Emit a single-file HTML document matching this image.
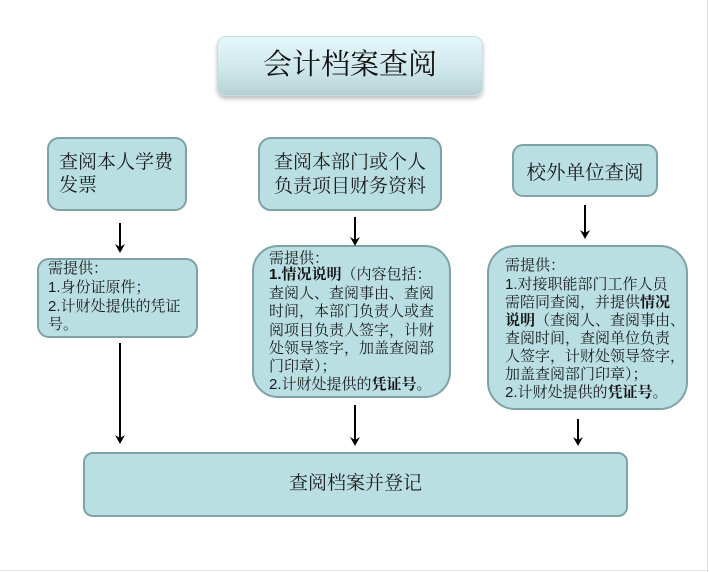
<!DOCTYPE html>
<html lang="zh-CN">
<head>
<meta charset="utf-8">
<style>
  html,body{margin:0;padding:0;background:#fff;}
  body{width:709px;height:572px;position:relative;overflow:hidden;
    font-family:"Liberation Sans","Noto Serif CJK SC","Noto Serif CJK JP","Noto Serif CJK TC",serif;color:#1e1e1e;}
  .box{position:absolute;box-sizing:border-box;background:#badfe3;border:2px solid #7fa2a5;}
  .t{position:absolute;white-space:nowrap;}
  .ln{position:absolute;white-space:nowrap;font-size:15px;height:18px;line-height:18px;color:#1c1c1c;}
  b{font-weight:bold;color:#111;}
</style>
</head>
<body>
<!-- frame lines -->
<div style="position:absolute;left:707px;top:0;width:1px;height:572px;background:#e2e2e2;"></div>
<div style="position:absolute;left:0;top:570px;width:709px;height:1px;background:#e6e6e6;"></div>

<!-- title -->
<div style="position:absolute;left:217px;top:36px;width:266px;height:60px;border-radius:9px;
  background:linear-gradient(#e4f7fa,#cfe8ec 55%,#b6d0d4);box-shadow:0 3px 4px rgba(0,0,0,0.25);border:1px solid #c9dde0;box-sizing:border-box;"></div>
<div class="t" style="left:217px;top:46px;width:266px;text-align:center;font-size:29px;line-height:38px;color:#111;">会计档案查阅</div>

<!-- top boxes -->
<div class="box" style="left:47px;top:137px;width:140px;height:74px;border-radius:12px;"></div>
<div class="t" style="left:59px;top:151px;font-size:19px;line-height:23px;color:#1c1c1c;">查阅本人学费<br>发票</div>

<div class="box" style="left:258px;top:137px;width:184px;height:74px;border-radius:13px;"></div>
<div class="t" style="left:258px;top:151px;width:184px;text-align:center;font-size:19px;line-height:24px;color:#1c1c1c;">查阅本部门或个人<br>负责项目财务资料</div>

<div class="box" style="left:512px;top:144px;width:146px;height:53px;border-radius:11px;"></div>
<div class="t" style="left:512px;top:160px;width:146px;text-align:center;font-size:19.5px;line-height:26px;color:#1c1c1c;">校外单位查阅</div>

<!-- middle boxes -->
<div class="box" style="left:37px;top:258px;width:161px;height:80px;border-radius:12px;"></div>
<div class="ln" style="left:48px;top:260px;">需提供：</div>
<div class="ln" style="left:48px;top:279px;">1.身份证原件；</div>
<div class="ln" style="left:48px;top:298px;">2.计财处提供的凭证</div>
<div class="ln" style="left:48px;top:316px;">号。</div>

<div class="box" style="left:252px;top:245px;width:199px;height:153px;border-radius:26px;"></div>
<div class="ln" style="left:269px;top:250px;">需提供：</div>
<div class="ln" style="left:269px;top:266px;"><b>1.情况说明</b>（内容包括：</div>
<div class="ln" style="left:269px;top:285px;">查阅人、查阅事由、查阅</div>
<div class="ln" style="left:269px;top:303px;">时间，本部门负责人或查</div>
<div class="ln" style="left:269px;top:322px;">阅项目负责人签字，计财</div>
<div class="ln" style="left:269px;top:340px;">处领导签字，加盖查阅部</div>
<div class="ln" style="left:269px;top:358px;">门印章）；</div>
<div class="ln" style="left:269px;top:376px;">2.计财处提供的<b>凭证号</b>。</div>

<div class="box" style="left:487px;top:245px;width:201px;height:165px;border-radius:28px;"></div>
<div class="ln" style="left:505px;top:257px;">需提供：</div>
<div class="ln" style="left:505px;top:276px;">1.对接职能部门工作人员</div>
<div class="ln" style="left:505px;top:294px;">需陪同查阅，并提供<b>情况</b></div>
<div class="ln" style="left:505px;top:312px;"><b>说明</b>（查阅人、查阅事由、</div>
<div class="ln" style="left:505px;top:330px;">查阅时间，查阅单位负责</div>
<div class="ln" style="left:505px;top:348px;">人签字，计财处领导签字，</div>
<div class="ln" style="left:505px;top:366px;">加盖查阅部门印章）；</div>
<div class="ln" style="left:505px;top:384px;">2.计财处提供的<b>凭证号</b>。</div>

<!-- bottom box -->
<div class="box" style="left:83px;top:452px;width:545px;height:65px;border-radius:10px;"></div>
<div class="t" style="left:83px;top:471px;width:545px;text-align:center;font-size:19px;line-height:26px;color:#1c1c1c;">查阅档案并登记</div>

<!-- arrows -->
<svg style="position:absolute;left:0;top:0;" width="709" height="572" viewBox="0 0 709 572">
  <g stroke="#000" stroke-width="2" fill="none">
    <line x1="120" y1="223" x2="120" y2="248"/>
    <line x1="355" y1="217" x2="355" y2="241"/>
    <line x1="585" y1="205" x2="585" y2="234"/>
    <line x1="120" y1="343" x2="120" y2="439"/>
    <line x1="355" y1="405" x2="355" y2="441"/>
    <line x1="578" y1="419" x2="578" y2="441"/>
  </g>
  <g fill="#000">
    <polygon points="120,253 115,244 120,247 125,244"/>
    <polygon points="355,246 350,237 355,240 360,237"/>
    <polygon points="585,239 580,230 585,233 590,230"/>
    <polygon points="120,444 115,435 120,438 125,435"/>
    <polygon points="355,446 350,437 355,440 360,437"/>
    <polygon points="578,446 573,437 578,440 583,437"/>
  </g>
</svg>
</body>
</html>
